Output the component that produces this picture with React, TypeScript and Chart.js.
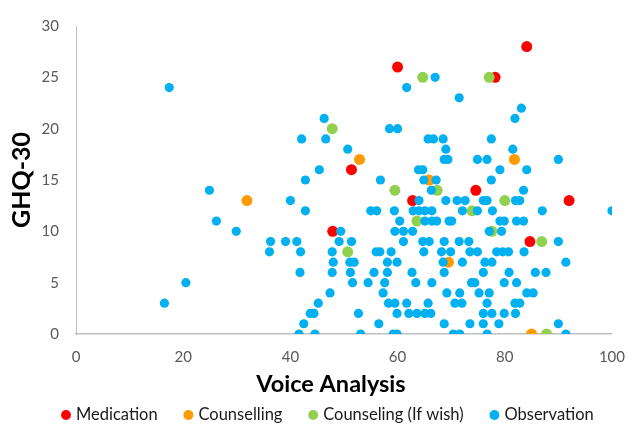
import React, { useEffect, useRef } from "react";
import { Chart, registerables } from "chart.js";

Chart.register(...registerables);

const seriesNames = ["Medication", "Counselling", "Counseling (If wish)", "Observation"];
const seriesColors = ["#FF0000", "#FF9A00", "#92D050", "#00B0F0"];

const medication: number[][] = [
  [60, 26], [84.1, 28], [78.2, 25], [51.4, 16], [62.8, 13], [47.9, 10], [74.6, 14], [92, 13], [84.7, 9],
];

const counselling: number[][] = [
  [31.9, 13], [52.9, 17], [65.9, 15], [81.8, 17], [69.5, 7], [85, 0],
];

const counselingIfWish: number[][] = [
  [64.7, 25], [47.8, 20], [77.1, 25], [59.5, 14], [67.4, 14], [63.6, 11], [50.7, 8], [73.9, 12],
  [80, 13], [77.6, 10], [86.9, 9], [87.8, 0],
];

const observation: number[][] = [
  [16.5, 3], [17.4, 24], [20.5, 5], [24.9, 14], [26.2, 11], [29.9, 10],
  [36.3, 9], [39.1, 9], [41.2, 9], [36.1, 8], [41.9, 8], [40, 13], [42.8, 12], [41.8, 6],
  [43.7, 2], [42.5, 1], [41.6, 0], [42.1, 19], [42.8, 15],
  [67, 25], [61.7, 24], [71.5, 23], [46.3, 21], [46.6, 19], [58.5, 20], [60, 20],
  [65.7, 19], [66.7, 19], [68.5, 19], [69, 18], [68.7, 17], [69.4, 17], [50.7, 18],
  [83.1, 22], [81.9, 21], [77.5, 19], [81.5, 18], [74.9, 17], [76.7, 17], [90, 17],
  [79.1, 16], [84.1, 16], [77.5, 15], [83.5, 14], [71.1, 13], [72.6, 13], [76, 13], [76.7, 13],
  [82, 13], [82.8, 13], [72.1, 12], [74.9, 12], [77.7, 12], [87, 12], [100, 12], [70.1, 11],
  [79.1, 11], [79.9, 11], [82.2, 11], [83.5, 11], [77.1, 10], [79.4, 10], [71.5, 9], [73.3, 9], [90, 9],
  [73.5, 8], [74.9, 8], [78.5, 8], [79.6, 8], [80.7, 8], [83.6, 8], [72.1, 7], [76.3, 7], [77.6, 7],
  [91.4, 7], [76, 6], [80.8, 6], [85.7, 6], [87.7, 6], [73.8, 5], [74.4, 5], [79.9, 5], [82.2, 5],
  [71.6, 4], [75.2, 4], [77.1, 4], [84.1, 4], [85.3, 4], [70.7, 3], [72, 3], [76.7, 3], [81.9, 3],
  [82.8, 3], [76, 2], [77.6, 2], [79.9, 2], [82, 2], [73.5, 1], [76, 1], [78.9, 1], [90, 1],
  [70.4, 0], [71.6, 0], [76.7, 0], [91.4, 0],
  [45.4, 16], [63.9, 16], [64.7, 16], [56.8, 15], [64.9, 15], [67.2, 15], [66.3, 14], [69, 13],
  [64, 13], [55, 12], [56.1, 12], [59.4, 12], [62.9, 12], [64, 12], [65.1, 12], [66.4, 12],
  [60.4, 11], [65.1, 11], [66.4, 11], [67.3, 11], [69.6, 11], [59.5, 10], [61.1, 10], [62.8, 10],
  [49.4, 10], [64.7, 9], [65.9, 9], [49.1, 9], [51.4, 9], [61.1, 9], [68.7, 9],
  [47.8, 8], [56, 8], [56.7, 8], [58.8, 8], [64.9, 8], [68.2, 8], [69.9, 8], [48, 7], [51.1, 7],
  [51.9, 7], [58.1, 7], [59.9, 7], [68.5, 7], [47.8, 6], [51.2, 6], [55.6, 6], [58.1, 6], [62.7, 6],
  [68.7, 6], [51.6, 5], [54.5, 5], [57.6, 5], [63.4, 5], [66.4, 5], [47.4, 4], [57.3, 4], [69.2, 4],
  [45.2, 3], [58.3, 3], [59.5, 3], [61.7, 3], [65.7, 3], [44.4, 2], [52.7, 2], [59.9, 2], [62.1, 2],
  [63.6, 2], [65.1, 2], [66.2, 2], [56.5, 1], [68.7, 1], [44.6, 0], [53.1, 0], [59.2, 0], [59.9, 0],
];

const xTicks = [0, 20, 40, 60, 80, 100];
const yTicks = [0, 5, 10, 15, 20, 25, 30];

const toPoints = (arr: number[][]) => arr.map(([x, y]) => ({ x, y }));

const LEGEND_HEIGHT = 20;
const LEGEND_PAD = 29;
const LEGEND_FONT = 16.5;

export default function App() {
  const ref = useRef<HTMLCanvasElement | null>(null);

  useEffect(() => {
    if (!ref.current) return;
    const allSeries = [medication, counselling, counselingIfWish, observation];
    const radii = [5.5, 5.5, 5.5, 4.6];
    const orders = [3, 2, 1, 0];
    const layoutTweak = {
      id: "layoutTweak",
      beforeLayout(chart: any) {
        const leg = chart.legend;
        if (leg && !leg.__patched) {
          const orig = leg.fit.bind(leg);
          leg.fit = function () {
            orig();
            this.height = LEGEND_HEIGHT;
          };
          leg.__patched = true;
        }
      },
      afterLayout(chart: any) {
        const leg = chart.legend;
        if (leg) {
          leg.bottom = chart.height;
          leg.top = chart.height - 9 - LEGEND_PAD - LEGEND_FONT / 2;
          leg.left += 23;
          leg.right += 23;
        }
        const xs = chart.scales.x;
        if (xs && !xs.__patched) {
          const origTitle = xs.drawTitle.bind(xs);
          xs.drawTitle = function () {
            this.ctx.save();
            this.ctx.translate(-13, 0);
            origTitle();
            this.ctx.restore();
          };
          xs.__patched = true;
        }
      },
    };
    const chart = new Chart(ref.current, {
      type: "scatter",
      data: {
        datasets: allSeries.map((s, i) => ({
          label: seriesNames[i],
          data: toPoints(s),
          backgroundColor: seriesColors[i],
          borderColor: seriesColors[i],
          borderWidth: 0,
          pointRadius: radii[i],
          pointHoverRadius: radii[i],
          pointStyle: "circle",
          order: orders[i],
        })),
      },
      options: {
        animation: false,
        responsive: true,
        maintainAspectRatio: false,
        layout: { padding: { top: 10, right: 23, left: 0, bottom: 0 } },
        plugins: {
          tooltip: { enabled: false },
          legend: {
            position: "bottom",
            labels: {
              usePointStyle: true,
              boxHeight: 7,
              boxWidth: 3.5,
              padding: LEGEND_PAD,
              color: "#1a1a1a",
              font: { family: "Lato", size: LEGEND_FONT },
              sort: (a: any, b: any) => a.datasetIndex - b.datasetIndex,
            },
          },
        },
        scales: {
          x: {
            type: "linear",
            min: 0,
            max: 100,
            afterBuildTicks: (s: any) => {
              s.ticks = xTicks.map((v) => ({ value: v }));
            },
            afterFit: (s: any) => {
              s.height = 70;
            },
            grid: { display: false, drawTicks: false },
            border: { display: true, color: "#BFBFBF", width: 1.5 },
            ticks: { color: "#595959", font: { family: "Lato", size: 15, lineHeight: 1.7 }, padding: 10 },
            title: {
              display: true,
              text: "Voice Analysis",
              color: "#000000",
              font: { family: "Lato", size: 23.5, weight: "bold" },
              padding: { top: 0, bottom: 5 },
            },
          },
          y: {
            type: "linear",
            min: 0,
            max: 30,
            afterBuildTicks: (s: any) => {
              s.ticks = yTicks.map((v) => ({ value: v }));
            },
            afterFit: (s: any) => {
              s.width = 76;
            },
            grid: { display: false, drawTicks: false },
            border: { display: true, color: "#BFBFBF", width: 1 },
            ticks: { color: "#595959", font: { family: "Lato", size: 15 }, padding: 17 },
            title: {
              display: true,
              text: "GHQ-30",
              color: "#000000",
              font: { family: "Lato", size: 25, weight: "bold" },
              padding: { top: 7, bottom: 0 },
            },
          },
        },
      },
      plugins: [layoutTweak],
    });
    return () => chart.destroy();
  }, []);

  return (
    <div style={{ position: "absolute", left: 0, top: 0, width: 635, height: 424, background: "#fff" }}>
      <canvas ref={ref} />
    </div>
  );
}
